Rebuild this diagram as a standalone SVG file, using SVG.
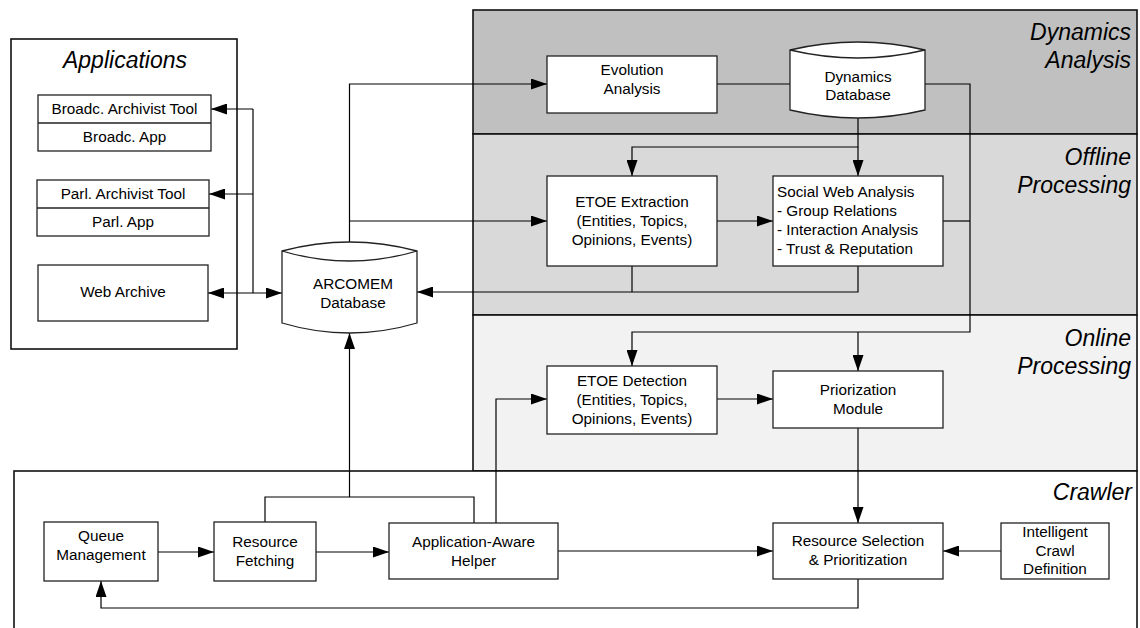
<svg xmlns="http://www.w3.org/2000/svg" width="1140" height="628" viewBox="0 0 1140 628">
<style>
.t{font-family:"Liberation Sans",Arial,sans-serif;font-size:15.3px;fill:#000;text-anchor:middle}
.l{text-anchor:start}
.ti{font-family:"Liberation Sans",Arial,sans-serif;font-size:23px;font-style:italic;fill:#000;text-anchor:end}
.box{fill:#fff;stroke:#222;stroke-width:1.3}
.reg{stroke:#111;stroke-width:1.6}
.c{fill:none;stroke:#000;stroke-width:1.2}
.ar{marker-end:url(#a)}
</style>
<defs>
<marker id="a" markerWidth="16" markerHeight="11" refX="16" refY="5.5" orient="auto" markerUnits="userSpaceOnUse"><path d="M0,0 L16,5.5 L0,11 z" fill="#000"/></marker>
</defs>
<g id="regions">
<rect class="reg" x="473" y="10" width="664" height="124" fill="#c0c0c0"/>
<rect class="reg" x="473" y="134" width="664" height="181" fill="#d9d9d9"/>
<rect class="reg" x="473" y="315" width="664" height="156" fill="#f2f2f2"/>
<rect class="reg" x="14" y="471" width="1123" height="170" fill="#fff"/>
<rect class="reg" x="11" y="39" width="226" height="310" fill="#fff"/>
<text class="ti" x="1131" y="40">Dynamics</text>
<text class="ti" x="1131" y="68">Analysis</text>
<text class="ti" x="1131" y="165">Offline</text>
<text class="ti" x="1131" y="193">Processing</text>
<text class="ti" x="1131" y="346">Online</text>
<text class="ti" x="1131" y="374">Processing</text>
<text class="ti" x="1132" y="500">Crawler</text>
<text class="ti" x="125" y="68" style="text-anchor:middle">Applications</text>
</g>
<g id="connectors">
<path class="c" d="M253,109 V293"/>
<path class="c ar" d="M253,109 H211"/>
<path class="c ar" d="M253,194 H209"/>
<path class="c ar" d="M246,293 H208"/>
<path class="c ar" d="M246,293 H282"/>
<path class="c ar" d="M349.5,242 V84 H547"/>
<path class="c ar" d="M349.5,221 H547"/>
<path class="c" d="M717,84 H790"/>
<path class="c ar" d="M925,84 H970 V332 H632 V366"/>
<path class="c ar" d="M858,332 V371"/>
<path class="c" d="M943,221 H970"/>
<path class="c ar" d="M858,118 V147 H632 V176"/>
<path class="c ar" d="M858,147 V176"/>
<path class="c ar" d="M717,221 H773"/>
<path class="c" d="M632,266 V292"/>
<path class="c ar" d="M858,266 V292 H417"/>
<path class="c ar" d="M717,399 H773"/>
<path class="c ar" d="M496,523 V399 H547"/>
<path class="c ar" d="M858,428 V523"/>
<path class="c ar" d="M158,552 H214"/>
<path class="c ar" d="M316,552 H389"/>
<path class="c ar" d="M558,551 H773"/>
<path class="c ar" d="M1001,551 H943"/>
<path class="c ar" d="M858,579 V608 H101 V581"/>
<path class="c" d="M265,522 V497 H474 V523"/>
<path class="c ar" d="M349.5,497 V333"/>
</g>
<g id="broadc">
<rect class="box" x="38" y="95" width="173" height="56"/>
<line x1="38" y1="123" x2="211" y2="123" stroke="#222" stroke-width="1.3"/>
<text class="t" x="124.5" y="114">Broadc. Archivist Tool</text>
<text class="t" x="124.5" y="141.5">Broadc. App</text>
</g>
<g id="parl">
<rect class="box" x="37" y="180" width="172" height="56"/>
<line x1="37" y1="208" x2="209" y2="208" stroke="#222" stroke-width="1.3"/>
<text class="t" x="123" y="199">Parl. Archivist Tool</text>
<text class="t" x="123" y="226.5">Parl. App</text>
</g>
<g id="webarchive">
<rect class="box" x="38" y="265" width="170" height="56"/>
<text class="t" x="123" y="296.5">Web Archive</text>
</g>
<g id="arcomem">
<path class="box" d="M282,251 Q349.5,233 417,251 L417,323 Q349.5,343 282,323 Z"/>
<path fill="none" stroke="#222" stroke-width="1.3" d="M282,251 Q349.5,271 417,251"/>
<text class="t" x="353" y="288.5">ARCOMEM</text>
<text class="t" x="353" y="308">Database</text>
</g>
<g id="evolution">
<rect class="box" x="547" y="56" width="170" height="57"/>
<text class="t" x="632" y="74.5">Evolution</text>
<text class="t" x="632" y="93.5">Analysis</text>
</g>
<g id="dynamicsdb">
<path class="box" d="M790,50 Q858,34 925,50 L925,110 Q858,126 790,110 Z"/>
<path fill="none" stroke="#222" stroke-width="1.3" d="M790,50 Q858,66 925,50"/>
<text class="t" x="858" y="81.5">Dynamics</text>
<text class="t" x="858" y="100">Database</text>
</g>
<g id="etoeextraction">
<rect class="box" x="547" y="176" width="170" height="90"/>
<text class="t" x="632" y="206.5">ETOE Extraction</text>
<text class="t" x="632" y="225.5">(Entities, Topics,</text>
<text class="t" x="632" y="244.5">Opinions, Events)</text>
</g>
<g id="socialweb">
<rect class="box" x="773" y="176" width="170" height="90"/>
<text class="t l" x="777" y="197">Social Web Analysis</text>
<text class="t l" x="777" y="216">- Group Relations</text>
<text class="t l" x="777" y="235">- Interaction Analysis</text>
<text class="t l" x="777" y="253.5">- Trust &amp; Reputation</text>
</g>
<g id="etoedetection">
<rect class="box" x="547" y="366" width="170" height="68"/>
<text class="t" x="632" y="385.5">ETOE Detection</text>
<text class="t" x="632" y="404.5">(Entities, Topics,</text>
<text class="t" x="632" y="424">Opinions, Events)</text>
</g>
<g id="priorization">
<rect class="box" x="773" y="371" width="170" height="57"/>
<text class="t" x="858" y="394.5">Priorization</text>
<text class="t" x="858" y="413.5">Module</text>
</g>
<g id="queue">
<rect class="box" x="44" y="522" width="114" height="59"/>
<text class="t" x="101" y="541">Queue</text>
<text class="t" x="101" y="559.5">Management</text>
</g>
<g id="fetching">
<rect class="box" x="214" y="522" width="102" height="59"/>
<text class="t" x="265" y="547">Resource</text>
<text class="t" x="265" y="566">Fetching</text>
</g>
<g id="appaware">
<rect class="box" x="389" y="523" width="169" height="56"/>
<text class="t" x="473.5" y="547">Application-Aware</text>
<text class="t" x="473.5" y="565.5">Helper</text>
</g>
<g id="selection">
<rect class="box" x="773" y="523" width="170" height="56"/>
<text class="t" x="858" y="546">Resource Selection</text>
<text class="t" x="858" y="565">&amp; Prioritization</text>
</g>
<g id="intelligent">
<rect class="box" x="1001" y="523" width="108" height="56"/>
<text class="t" x="1055" y="537">Intelligent</text>
<text class="t" x="1055" y="555.5">Crawl</text>
<text class="t" x="1055" y="574">Definition</text>
</g>
</svg>
